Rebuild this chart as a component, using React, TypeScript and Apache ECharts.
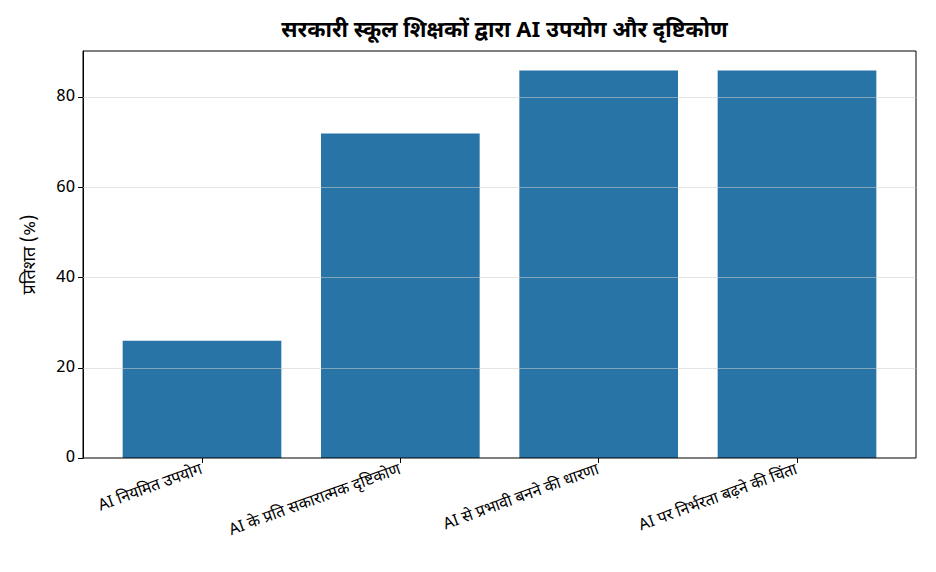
import React, { useEffect, useRef } from "react";
import * as echarts from "echarts";

const categories = [
  "AI नियमित उपयोग",
  "AI के प्रति सकारात्मक दृष्टिकोण",
  "AI से प्रभावी बनने की धारणा",
  "AI पर निर्भरता बढ़ने की चिंता",
];
const values = [26, 72, 86, 86];
const gridValues = [20, 40, 60, 80];
const yMax = 90.3;

const FONT = "'Noto Sans Devanagari', 'Noto Sans', 'DejaVu Sans', sans-serif";

export default function App() {
  const ref = useRef<HTMLDivElement>(null);
  useEffect(() => {
    if (!ref.current) return;
    const chart = echarts.init(ref.current, undefined, { renderer: "svg" });
    const W = 936;
    const left0 = 83;
    const right0 = 20;
    const plotW = W - left0 - right0;
    const unit = plotW / 4.2;
    const pad = unit * 0.1;
    chart.setOption({
      animation: false,
      backgroundColor: "#ffffff",
      title: {
        text: "सरकारी स्कूल शिक्षकों द्वारा AI उपयोग और दृष्टिकोण",
        left: left0 + plotW / 2,
        textAlign: "center",
        top: 15,
        textStyle: { fontFamily: FONT, fontSize: 22, fontWeight: "bold", color: "#000" },
      },
      grid: [
        {
          left: left0,
          right: right0,
          top: 51,
          bottom: 114,
          show: true,
          borderColor: "#000",
          borderWidth: 1,
          backgroundColor: "transparent",
          z: 10,
        },
        {
          left: left0 + pad,
          right: right0 + pad,
          top: 51,
          bottom: 114,
        },
      ],
      xAxis: [
        {
          gridIndex: 0,
          type: "value",
          min: 0,
          max: 1,
          show: false,
        },
        {
          gridIndex: 1,
          type: "category",
          data: categories,
          boundaryGap: true,
          axisLine: { show: false },
          axisTick: {
            show: true,
            alignWithLabel: true,
            length: 5,
            lineStyle: { color: "#000", width: 1 },
          },
          axisLabel: {
            rotate: 20,
            interval: 0,
            margin: 12,
            fontFamily: FONT,
            fontSize: 16,
            color: "#000",
          },
        },
      ],
      yAxis: [
        {
          gridIndex: 0,
          type: "value",
          min: 0,
          max: yMax,
          interval: 20,
          name: "प्रतिशत (%)",
          nameLocation: "middle",
          nameGap: 44,
          nameTextStyle: { fontFamily: FONT, fontSize: 18, color: "#000" },
          axisLine: { show: true, lineStyle: { color: "#000", width: 1 } },
          axisTick: { show: true, length: 5, lineStyle: { color: "#000" } },
          axisLabel: {
            fontFamily: FONT,
            fontSize: 17,
            color: "#000",
            margin: 8,
            showMaxLabel: false,
          },
          splitLine: { show: false },
        },
        {
          gridIndex: 1,
          type: "value",
          min: 0,
          max: yMax,
          show: false,
          splitLine: { show: false },
        },
      ],
      series: [
        {
          type: "bar",
          xAxisIndex: 1,
          yAxisIndex: 1,
          data: values,
          barCategoryGap: "20%",
          itemStyle: { color: "#2874a6" },
          z: 2,
        },
        {
          type: "line",
          xAxisIndex: 0,
          yAxisIndex: 0,
          data: [],
          z: 10,
          markLine: {
            silent: true,
            symbol: "none",
            z: 10,
            label: { show: false },
            lineStyle: { color: "rgba(205,205,205,0.55)", width: 1, type: "solid" },
            data: gridValues.map((v) => ({ yAxis: v })),
          },
        },
      ],
    });
    return () => chart.dispose();
  }, []);
  return <div ref={ref} style={{ width: 936, height: 572, margin: -8 }} />;
}
